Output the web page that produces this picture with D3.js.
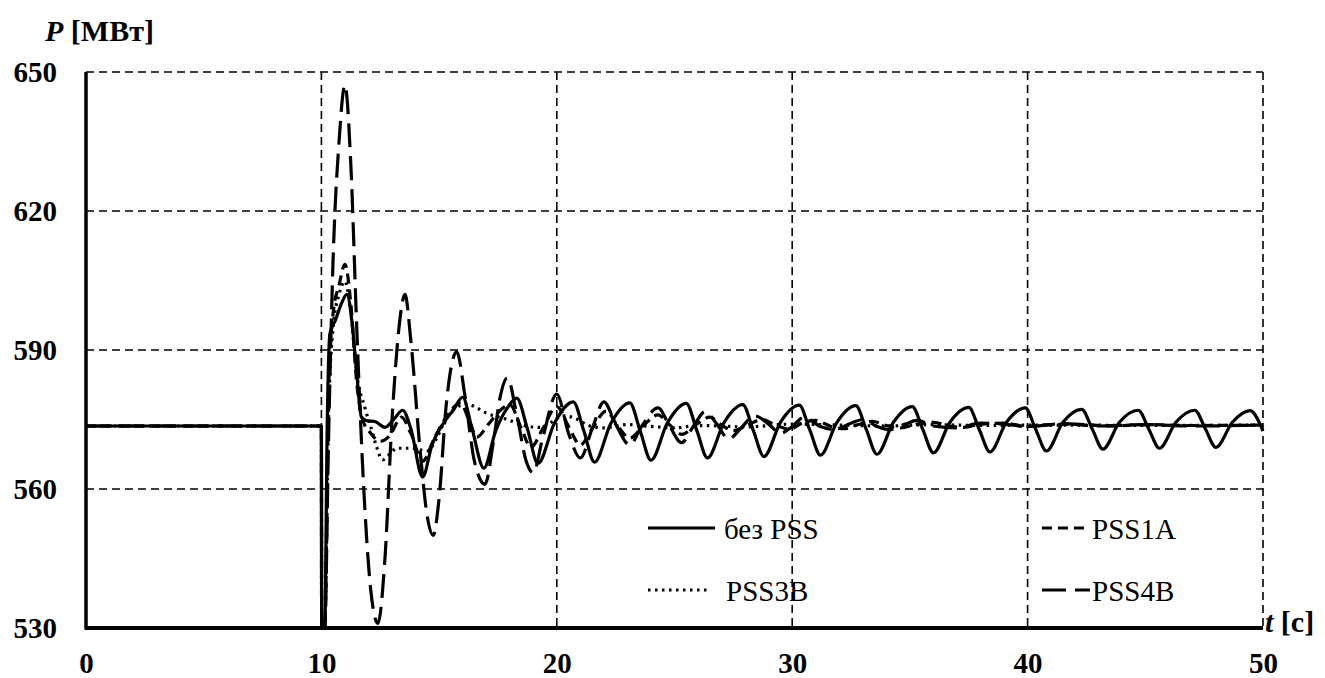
<!DOCTYPE html>
<html>
<head>
<meta charset="utf-8">
<script src="https://cdn.jsdelivr.net/npm/d3@7"></script>
</head>
<body style="margin:0;padding:0;background:#fff">
<svg id="chart" width="1325" height="678" style="display:block"></svg>
<script>
// Active power P [MW] of the generator vs. time t [s], fault at t = 10 s,
// with no stabiliser and with three stabiliser models.

const serifFont = '"Liberation Serif", "Times New Roman", serif';

const xTicks = [0, 10, 20, 30, 40, 50];
const yTicks = [530, 560, 590, 620, 650];

const seriesNames = ["без PSS", "PSS1A", "PSS3B", "PSS4B"];

// [t, P] samples for each case
const noPss = [
  [0, 573.6], [10, 573.6], [10.01, 530], [10.14, 530], [10.25, 575], [10.36, 593.5],
  [10.6, 596.5], [10.85, 600], [11.08, 602], [11.3, 596], [11.5, 585], [11.7, 575.5],
  [11.9, 574.8], [12.3, 574.5], [12.7, 573.3], [13.1, 575.2], [13.45, 577], [13.8, 573],
  [14.3, 562.6], [14.7, 569.5], [15.2, 574.3], [15.6, 577], [16.0, 579.8], [16.4, 573],
  [16.9, 564.5], [17.4, 572.5], [17.9, 577.5], [18.3, 579.6], [18.75, 573], [19.2, 565.5],
  [19.9, 574.2], [20.7, 578.8], [21.15, 572.5], [21.6, 565.8], [22.3, 574.2], [23.1, 578.6],
  [23.55, 572.4], [24.0, 566.2], [24.7, 574.3], [25.5, 578.5], [25.95, 572.6], [26.4, 566.7],
  [27.1, 574.3], [27.9, 578.2], [28.35, 572.6], [28.8, 567.0], [29.5, 574.4], [30.3, 578.1],
  [30.75, 572.7], [31.2, 567.3], [31.9, 574.4], [32.7, 578.0], [33.15, 572.8], [33.6, 567.5],
  [34.3, 574.4], [35.1, 577.8], [35.55, 572.8], [36.0, 567.8], [36.7, 574.4], [37.5, 577.6],
  [37.95, 572.8], [38.4, 568.0], [39.1, 574.4], [39.9, 577.5], [40.35, 572.8], [40.8, 568.2],
  [41.5, 574.4], [42.3, 577.2], [42.75, 572.9], [43.2, 568.6], [43.9, 574.4], [44.7, 577.0],
  [45.15, 572.9], [45.6, 568.8], [46.3, 574.4], [47.1, 577.0], [47.55, 573.0], [48.0, 569.0],
  [48.7, 574.4], [49.45, 576.9], [50, 572.5]
];

const pss1a = [
  [0, 573.6], [10, 573.6], [10.01, 530], [10.14, 530], [10.3, 580], [10.5, 598],
  [10.75, 604], [11.0, 608.5], [11.25, 600], [11.5, 583], [11.75, 575], [12.1, 572],
  [12.5, 570.3], [12.9, 571.5], [13.4, 575.5], [13.8, 572], [14.3, 566], [14.8, 571],
  [15.3, 575.5], [15.9, 578.5], [16.3, 574.5], [16.6, 571.2], [17.1, 574], [17.6, 577],
  [18.0, 578.2], [18.5, 573], [18.9, 569], [19.4, 573], [20.0, 577.8], [20.5, 573.5],
  [21.0, 569.5], [21.5, 573], [22.1, 576.8], [22.6, 573.5], [23.1, 571], [23.7, 573.8],
  [24.3, 576], [24.8, 573.8], [25.3, 571.8], [25.9, 573.8], [26.5, 575.5], [27.0, 573.8],
  [27.5, 572.6], [28.1, 573.8], [28.7, 575], [29.3, 573.8], [29.9, 572.9], [30.4, 574.2],
  [31.0, 574.8], [31.6, 573.6], [32.2, 573], [32.8, 573.9], [33.4, 574.6], [34.0, 573.7],
  [34.6, 573.2], [35.3, 574], [36.0, 574.4], [36.7, 573.6], [37.3, 573.3], [38.0, 574],
  [39.0, 574.2], [40.0, 573.5], [41.0, 573.9], [42.0, 574], [43.5, 573.6], [45.0, 573.9],
  [47.0, 573.7], [50, 573.8]
];

const pss3b = [
  [0, 573.6], [10, 573.6], [10.01, 530], [10.14, 530], [10.3, 575], [10.5, 595],
  [10.75, 602], [11.0, 604.8], [11.25, 598], [11.5, 585], [11.85, 577.5], [12.15, 572.5],
  [12.35, 569], [12.6, 566.3], [12.9, 567.5], [13.2, 568.8], [13.8, 568.8], [14.5, 568.2],
  [14.9, 571], [15.3, 575.3], [15.8, 577.8], [16.2, 578.3], [16.6, 577.5], [17.0, 576.4],
  [17.9, 575], [18.7, 573.6], [19.3, 573.3], [19.8, 574.5], [20.3, 575.8], [20.8, 575.2],
  [21.4, 573.6], [22.0, 573.2], [23.0, 573.9], [24.0, 573.5], [25.0, 573.2], [26.0, 573.7],
  [27.0, 573.6], [28.0, 573.4], [30.0, 574], [32.0, 573.8], [34.0, 573.6], [36.0, 573.9],
  [38.0, 573.7], [40.0, 573.8], [42.0, 573.8], [45.0, 573.7], [50, 573.8]
];

const pss4b = [
  [0, 573.6], [10, 573.6], [10.01, 530], [10.14, 530], [10.3, 570], [10.5, 610],
  [10.75, 635], [11.0, 647.2], [11.25, 630], [11.5, 595], [11.8, 560], [12.1, 538],
  [12.4, 531], [12.7, 545], [13.0, 575], [13.3, 595], [13.55, 602], [13.8, 592],
  [14.2, 568], [14.5, 554], [14.75, 550], [15.0, 558], [15.3, 578], [15.75, 589.6],
  [16.1, 580], [16.5, 566], [16.95, 561], [17.3, 570], [17.6, 580], [17.9, 584],
  [18.3, 576], [18.7, 566], [19.0, 563.5], [19.4, 571], [20.0, 580.5], [20.5, 572],
  [21.0, 566.7], [21.5, 573], [22.0, 578.8], [22.5, 574], [23.1, 569.5], [23.6, 573.5],
  [24.3, 577.5], [24.8, 573.5], [25.3, 570], [25.8, 573.5], [26.3, 576.7], [26.8, 574],
  [27.3, 570.8], [27.8, 573], [28.4, 575.8], [29.0, 574], [29.5, 572], [30.0, 573.5],
  [30.5, 575.5], [31.2, 573.5], [31.8, 572.8], [32.5, 574.2], [33.0, 575], [33.6, 573.5],
  [34.1, 572.8], [34.8, 574], [35.3, 574.8], [36.0, 573.6], [37.0, 573.2], [38.0, 574.2],
  [39.0, 574], [40.0, 573.5], [41.5, 574.1], [43.0, 573.6], [45.0, 573.9], [47.0, 573.6],
  [50, 573.8]
];

const svg = d3.select("#chart");
const margin = { left: 86, right: 1263, top: 72, bottom: 628 };

const x = d3.scaleLinear().domain([0, 50]).range([margin.left, margin.right]);
const y = d3.scaleLinear().domain([530, 650]).range([margin.bottom, margin.top]);

// dashed grid (including the top and right frame)
const grid = svg.append("g")
  .attr("stroke", "#000").attr("stroke-width", 1.6).attr("stroke-dasharray", "8,5").attr("fill", "none");
grid.selectAll("line.v").data(xTicks.filter(d => d > 0)).join("line")
  .attr("x1", d => x(d)).attr("x2", d => x(d))
  .attr("y1", y(650)).attr("y2", y(530));
grid.selectAll("line.h").data(yTicks.filter(d => d > 530)).join("line")
  .attr("x1", x(0)).attr("x2", x(50))
  .attr("y1", d => y(d)).attr("y2", d => y(d));

// curves
const line = d3.line().x(d => x(d[0])).y(d => y(d[1])).curve(d3.curveMonotoneX);
const styles = [
  { data: noPss, dash: null, width: 3.2 },
  { data: pss1a, dash: "10,6", width: 3.2 },
  { data: pss3b, dash: "2.5,4.5", width: 3.2 },
  { data: pss4b, dash: "24,9", width: 3.2 }
];
svg.append("clipPath").attr("id", "plotClip").append("rect")
  .attr("x", x(0)).attr("y", y(650) - 4).attr("width", x(50) - x(0) + 2).attr("height", y(530) - y(650) + 4);
svg.append("g").attr("clip-path", "url(#plotClip)")
  .selectAll("path").data([styles[3], styles[1], styles[2], styles[0]]).join("path")
  .attr("d", d => line(d.data))
  .attr("fill", "none").attr("stroke", "#000")
  .attr("stroke-width", d => d.width)
  .attr("stroke-dasharray", d => d.dash)
  .attr("stroke-linejoin", "round");

// solid left and bottom axes
svg.append("line").attr("x1", x(0)).attr("x2", x(0)).attr("y1", y(650)).attr("y2", y(530))
  .attr("stroke", "#000").attr("stroke-width", 3.5);
svg.append("line").attr("x1", x(0) - 1.5).attr("x2", x(50)).attr("y1", y(530)).attr("y2", y(530))
  .attr("stroke", "#000").attr("stroke-width", 4);

function boldLabel(sel, size) {
  sel.style("font-family", serifFont).style("font-weight", "bold")
    .style("font-size", size + "px").style("fill", "#000");
}

// tick labels
const yAxis = d3.axisLeft(y).tickValues(yTicks).tickSize(0).tickPadding(0).tickFormat(d3.format("d"));
const gy = svg.append("g").attr("transform", "translate(57,0)").call(yAxis);
gy.select(".domain").remove();
gy.selectAll("text").attr("dy", null).attr("y", 9).attr("text-anchor", "end").call(boldLabel, 29);

const xAxis = d3.axisBottom(x).tickValues(xTicks).tickSize(0).tickPadding(0).tickFormat(d3.format("d"));
const gx = svg.append("g").call(xAxis);
gx.select(".domain").remove();
gx.selectAll("text").attr("dy", null).attr("y", 673).attr("text-anchor", "middle").call(boldLabel, 29);

// axis titles
const pTitle = svg.append("text").attr("x", 45).attr("y", 41).call(boldLabel, 30);
pTitle.append("tspan").style("font-style", "italic").text("P");
pTitle.append("tspan").text(" [МВт]");
const tTitle = svg.append("text").attr("x", 1265).attr("y", 632).call(boldLabel, 30);
tTitle.append("tspan").style("font-style", "italic").text("t");
tTitle.append("tspan").text(" [с]");

// legend
const legendItems = [
  { name: seriesNames[0], style: styles[0], x1: 648, x2: 715, ly: 528, tx: 724, ty: 539 },
  { name: seriesNames[1], style: styles[1], x1: 1042, x2: 1090, ly: 528, tx: 1092, ty: 539 },
  { name: seriesNames[2], style: styles[2], x1: 648, x2: 707, ly: 590, tx: 726, ty: 601 },
  { name: seriesNames[3], style: styles[3], x1: 1042, x2: 1090, ly: 590, tx: 1092, ty: 601 }
];
const lg = svg.append("g");
lg.selectAll("line").data(legendItems).join("line")
  .attr("x1", d => d.x1).attr("x2", d => d.x2).attr("y1", d => d.ly).attr("y2", d => d.ly)
  .attr("stroke", "#000").attr("stroke-width", d => d.style.width)
  .attr("stroke-dasharray", d => d.style.dash);
lg.selectAll("text").data(legendItems).join("text")
  .attr("x", d => d.tx).attr("y", d => d.ty)
  .style("font-family", serifFont).style("font-size", "29px").style("fill", "#000")
  .text(d => d.name);
</script>
</body>
</html>
